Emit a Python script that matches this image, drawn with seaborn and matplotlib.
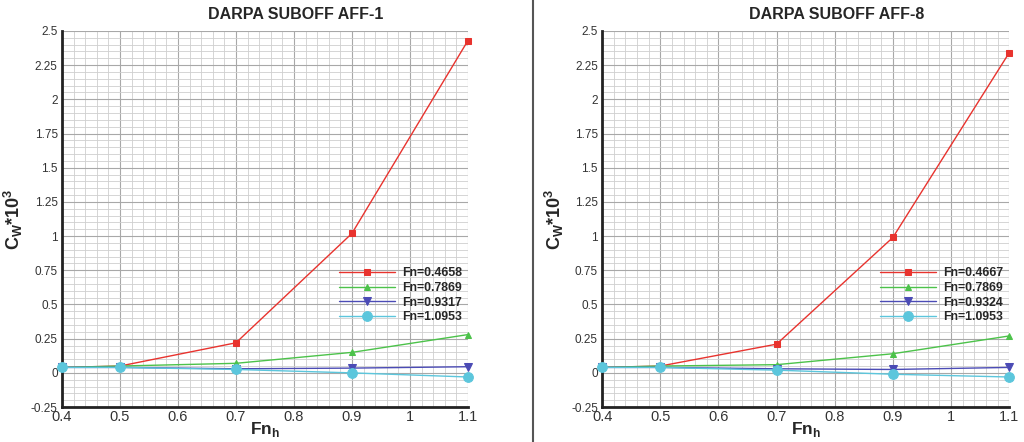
import numpy as np
import pandas as pd
import matplotlib
matplotlib.use("Agg")
import matplotlib.pyplot as plt
from matplotlib.lines import Line2D
from matplotlib.ticker import MultipleLocator, FuncFormatter
import seaborn as sns

# ---- data ----
fn_h = [0.4, 0.5, 0.7, 0.9, 1.1]

titles = ["DARPA SUBOFF AFF-1", "DARPA SUBOFF AFF-8"]

labels_aff1 = ["Fn=0.4658", "Fn=0.7869", "Fn=0.9317", "Fn=1.0953"]
labels_aff8 = ["Fn=0.4667", "Fn=0.7869", "Fn=0.9324", "Fn=1.0953"]

aff1_s1 = [0.04, 0.05, 0.22, 1.02, 2.43]
aff1_s2 = [0.04, 0.05, 0.07, 0.15, 0.28]
aff1_s3 = [0.04, 0.04, 0.03, 0.035, 0.045]
aff1_s4 = [0.04, 0.04, 0.025, 0.00, -0.03]

aff8_s1 = [0.04, 0.05, 0.21, 0.99, 2.34]
aff8_s2 = [0.04, 0.05, 0.06, 0.14, 0.27]
aff8_s3 = [0.04, 0.04, 0.03, 0.025, 0.04]
aff8_s4 = [0.04, 0.04, 0.02, -0.01, -0.03]

x_ticks = [0.4, 0.5, 0.6, 0.7, 0.8, 0.9, 1.0, 1.1]
y_ticks = [-0.25, 0, 0.25, 0.5, 0.75, 1, 1.25, 1.5, 1.75, 2, 2.25, 2.5]

# ---- style ----
sns.set_style("white")
plt.rcParams['font.family'] = ['Liberation Sans', 'DejaVu Sans']

colors = ["#e8332e", "#4cc24a", "#4b4bb5", "#5cc6dc"]
markers = ["s", "^", "v", "o"]
msizes = [5, 5, 6, 7]

fig = plt.figure(figsize=(10.24, 4.42), dpi=100)
ax1 = fig.add_axes([0.0605, 0.079, 0.3965, 0.851])
ax2 = fig.add_axes([0.588, 0.079, 0.3975, 0.851])

panels = [
    (ax1, titles[0], labels_aff1, [aff1_s1, aff1_s2, aff1_s3, aff1_s4]),
    (ax2, titles[1], labels_aff8, [aff8_s1, aff8_s2, aff8_s3, aff8_s4]),
]

fmt = FuncFormatter(lambda v, p: ("%g" % round(v, 4)))

for ax, title, labels, series in panels:
    rows = []
    for lab, vals in zip(labels, series):
        for xv, yv in zip(fn_h, vals):
            rows.append({"Fn_h": xv, "Cw": yv, "series": lab})
    df = pd.DataFrame(rows)
    for i, lab in enumerate(labels):
        sub = df[df["series"] == lab]
        sns.lineplot(data=sub, x="Fn_h", y="Cw", ax=ax, color=colors[i],
                     marker=markers[i], markersize=msizes[i],
                     markeredgecolor=colors[i], linewidth=1.0,
                     label=lab, clip_on=False, zorder=3 + i)

    ax.set_xlim(0.4, 1.1)
    ax.set_ylim(-0.25, 2.5)
    ax.set_xticks(x_ticks)
    ax.set_yticks(y_ticks)
    ax.xaxis.set_major_formatter(fmt)
    ax.yaxis.set_major_formatter(fmt)
    ax.xaxis.set_minor_locator(MultipleLocator(0.02))
    ax.yaxis.set_minor_locator(MultipleLocator(0.05))
    ax.grid(True, which="major", color="#a8a8a8", linewidth=0.8)
    ax.grid(True, which="minor", color="#cfcfcf", linewidth=0.6)
    ax.set_axisbelow(True)

    for s in ["top", "right"]:
        ax.spines[s].set_visible(False)
    for s in ["left", "bottom"]:
        ax.spines[s].set_linewidth(2.0)
        ax.spines[s].set_color("#222222")
    ax.tick_params(which="major", direction="in", length=8, width=1.8,
                   colors="#222222", labelcolor="#333333", pad=3)
    ax.tick_params(which="minor", direction="in", length=4, width=1.0,
                   colors="#222222")
    ax.tick_params(axis="x", which="major", length=9, labelsize=10.5, pad=2)
    ax.tick_params(axis="y", which="major", labelsize=8.5)

    ax.set_xlabel("Fn$_\\mathregular{h}$", fontsize=12.5, fontweight="bold",
                  labelpad=-3)
    ax.set_ylabel("C$_\\mathregular{W}$*10$^\\mathregular{3}$", fontsize=13,
                  fontweight="bold", labelpad=4)
    ax.text(0.575, 1.045, title, transform=ax.transAxes, ha="center",
            va="center", fontsize=11.5, fontweight="bold")

    leg = ax.legend(loc="upper left", bbox_to_anchor=(0.67, 0.385),
                    frameon=False, handlelength=4.6, labelspacing=0.22,
                    handletextpad=0.6, borderaxespad=0,
                    prop={"weight": "bold", "size": 8.8})
    leg.set_zorder(10)

fig.add_artist(Line2D([0.5205, 0.5205], [0.0, 1.0], color="#555555",
                      linewidth=1.5, transform=fig.transFigure))

fig.savefig("out.png", dpi=100, facecolor="white")
